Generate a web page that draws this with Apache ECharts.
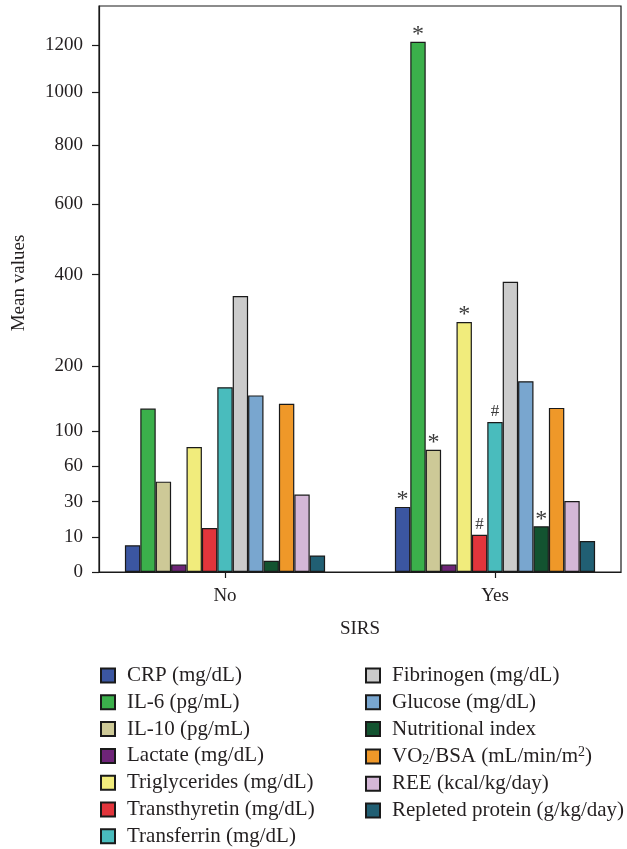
<!DOCTYPE html>
<html><head><meta charset="utf-8">
<script src="https://cdn.jsdelivr.net/npm/echarts@6/dist/echarts.min.js"></script>
<style>html,body{margin:0;padding:0;background:#fff}#c{width:627px;height:849px}</style>
</head><body><div id="c"></div>
<script>
const groups = ['No', 'Yes'];
const names = ['CRP (mg/dL)', 'IL-6 (pg/mL)', 'IL-10 (pg/mL)', 'Lactate (mg/dL)', 'Triglycerides (mg/dL)', 'Transthyretin (mg/dL)', 'Transferrin (mg/dL)', 'Fibrinogen (mg/dL)', 'Glucose (mg/dL)', 'Nutritional index', 'VO2/BSA (mL/min/m2)', 'REE (kcal/kg/day)', 'Repleted protein (g/kg/day)'];
const colors = ['#3b56a1', '#3bb04b', '#cdc997', '#6e2478', '#f1ec7c', '#e2353c', '#49bcbd', '#cbcbcb', '#79a6cf', '#135330', '#ef9829', '#d4b7d7', '#215f73'];
const valuesNo  = [7.6, 131, 47, 2.1, 82, 15, 164, 347, 151, 3.2, 138, 36, 4.7];
const valuesYes = [27, 1215, 79, 2.1, 288, 11.2, 112, 382, 174, 16, 132, 30.5, 8.8];
const marksNo  = ['', '', '', '', '', '', '', '', '', '', '', '', ''];
const marksYes = ['*', '*', '*', '', '*', '#', '#', '', '', '*', '', '', ''];
const tickValues = [0, 10, 30, 60, 100, 200, 400, 600, 800, 1000, 1200];

// axis transform: evenly spaced below 100, square-root above 100
const lowKnots = [0, 10, 30, 60, 100];
function tf(v) {
  if (v <= 100) {
    for (let i = 1; i < lowKnots.length; i++) {
      if (v <= lowKnots[i]) return (i - 1) + (v - lowKnots[i - 1]) / (lowKnots[i] - lowKnots[i - 1]);
    }
  }
  return 4 + (Math.sqrt(v) - 10) * 0.4452;
}
const tickT = tickValues.map(tf);

const FONT = '"Liberation Serif", "DejaVu Serif", serif';
const TXT = '#231f20';

const series = names.map((n, i) => ({
  name: n,
  type: 'bar',
  barWidth: 15.4,
  barGap: '0%',
  itemStyle: { color: colors[i], borderColor: '#1a1a1a', borderWidth: 1.2 },
  data: [[0, tf(valuesNo[i]), marksNo[i]], [1, tf(valuesYes[i]), marksYes[i]]].map(d => ({
    value: [d[0], d[1]],
    label: {
      show: d[2] !== '',
      position: 'top',
      distance: d[2] === '*' ? -5 : 2,
      formatter: d[2],
      fontFamily: FONT,
      fontSize: d[2] === '*' ? 24 : 17,
      color: '#3a3a3a'
    }
  }))
}));

const legendText = {
  fontFamily: FONT, fontSize: 21, color: TXT,
  rich: {
    p: { fontFamily: FONT, fontSize: 21, color: TXT, padding: [0, 0, 0, 7] },
    t: { fontFamily: FONT, fontSize: 21, color: TXT },
    sub: { fontFamily: FONT, fontSize: 14, color: TXT, verticalAlign: 'bottom', padding: [8, 0, 0, 0] },
    sup: { fontFamily: FONT, fontSize: 14, color: TXT, verticalAlign: 'top', padding: [0, 0, 8, 0] }
  }
};
function legendFmt(n) {
  if (n === 'VO2/BSA (mL/min/m2)') return '{p|VO}{sub|2}{t|/BSA (mL/min/m}{sup|2}{t|)}';
  return '{p|' + n + '}';
}

const legendBase = {
  orient: 'vertical', top: 665, height: 190, padding: 0, itemWidth: 14, itemHeight: 14, itemGap: 5.8,
  icon: 'rect', textStyle: legendText, formatter: legendFmt, selectedMode: false
};

const option = {
  animation: false,
  backgroundColor: '#fff',
  grid: { left: 99, right: 6, top: 6, bottom: 277, show: true, borderColor: '#1a1a1a', borderWidth: 1.2, containLabel: false },
  xAxis: {
    type: 'value', min: -0.4667, max: 1.4667,
    name: 'SIRS', nameLocation: 'middle', nameGap: 48,
    nameTextStyle: { fontFamily: FONT, fontSize: 19, color: TXT },
    axisLine: { show: true, onZero: false, lineStyle: { color: '#1a1a1a', width: 1.2 } },
    axisTick: { show: true, customValues: [0, 1], length: 6, lineStyle: { color: '#1a1a1a', width: 1.2 } },
    axisLabel: { customValues: [0, 1], formatter: v => groups[Math.round(v)], fontFamily: FONT, fontSize: 19, color: TXT, margin: 15 },
    splitLine: { show: false }
  },
  yAxis: {
    type: 'value', min: 0, max: 16.083,
    name: 'Mean values', nameLocation: 'middle', nameGap: 70,
    nameTextStyle: { fontFamily: FONT, fontSize: 19, color: TXT, padding: [0, 0, 0, 12] },
    axisLine: { show: true, onZero: false, lineStyle: { color: '#1a1a1a', width: 1.2 } },
    axisTick: { show: true, customValues: tickT, length: 7, lineStyle: { color: '#1a1a1a', width: 1.2 } },
    axisLabel: {
      customValues: tickT,
      formatter: v => {
        let best = 0;
        tickT.forEach((t, i) => { if (Math.abs(t - v) < Math.abs(tickT[best] - v)) best = i; });
        return String(tickValues[best]);
      },
      fontFamily: FONT, fontSize: 19, color: TXT, margin: 16
    },
    splitLine: { show: false }
  },
  legend: [
    Object.assign({ data: names.slice(0, 7), left: 100 }, legendBase),
    Object.assign({ data: names.slice(7), left: 365 }, legendBase)
  ],
  series: series
};
const chart = echarts.init(document.getElementById('c'), null, { renderer: 'canvas' });
chart.setOption(option);
</script></body></html>
